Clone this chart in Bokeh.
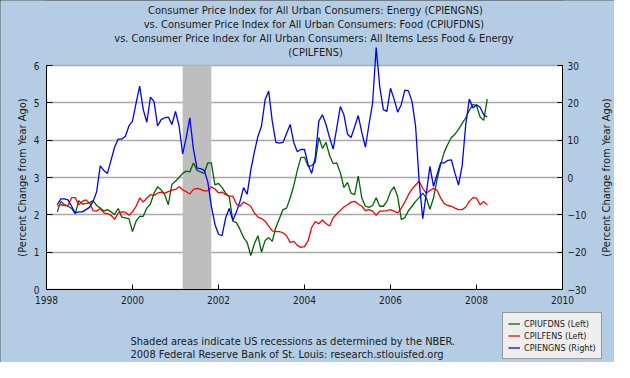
from math import pi
from bokeh.plotting import figure
from bokeh.models import (Range1d, LinearAxis, FixedTicker, BoxAnnotation, Label,
                          Legend, LegendItem)
from bokeh.embed import file_html
from bokeh.resources import INLINE

# ---------------- data (year-over-year % change, monthly, Apr 1998 - Apr 2008) -------------
start_year = 1998
start_month = 4

food_cpiufdns = [
    2.08, 2.36, 2.27, 2.23, 2.17, 2.03, 2.38, 2.29, 2.30, 2.32, 2.38, 2.25,
    2.18, 2.10, 2.14, 2.08, 2.01, 2.17, 1.94, 1.92, 1.90, 1.55, 1.83, 1.96,
    1.96, 2.18, 2.29, 2.58, 2.75, 2.67, 2.54, 2.27, 2.82, 2.90, 3.00, 3.11,
    3.17, 3.15, 3.39, 3.19, 3.15, 3.11, 3.39, 3.39, 2.80, 2.84, 2.73, 2.58,
    2.49, 1.83, 1.79, 1.61, 1.39, 1.26, 0.91, 1.22, 1.44, 1.00, 1.31, 1.39,
    1.29, 1.66, 1.90, 2.14, 2.18, 2.45, 2.78, 3.19, 3.54, 3.54, 3.30, 3.32,
    3.41, 4.07, 3.78, 3.94, 3.59, 3.37, 3.39, 3.13, 2.73, 2.87, 2.58, 2.54,
    3.04, 2.45, 2.23, 2.20, 2.25, 2.46, 2.23, 2.23, 2.36, 2.62, 2.75, 2.49,
    1.88, 1.92, 2.11, 2.23, 2.36, 2.46, 2.58, 2.45, 2.15, 2.45, 2.95, 3.35,
    3.68, 3.89, 4.07, 4.16, 4.29, 4.45, 4.60, 4.80, 4.95, 4.93, 4.62, 4.53,
    5.10,
]

core_cpilfens = [
    2.23, 2.27, 2.25, 2.25, 2.46, 2.46, 2.27, 2.36, 2.40, 2.32, 2.11, 2.10,
    2.17, 2.05, 2.03, 1.99, 1.88, 2.05, 2.08, 2.07, 1.99, 2.08, 2.23, 2.45,
    2.34, 2.45, 2.54, 2.52, 2.58, 2.61, 2.58, 2.62, 2.66, 2.68, 2.75, 2.67,
    2.62, 2.56, 2.68, 2.71, 2.68, 2.64, 2.64, 2.75, 2.69, 2.59, 2.61, 2.54,
    2.50, 2.50, 2.29, 2.23, 2.34, 2.29, 2.23, 2.05, 1.94, 1.90, 1.83, 1.70,
    1.57, 1.55, 1.55, 1.52, 1.44, 1.26, 1.29, 1.18, 1.13, 1.15, 1.30, 1.66,
    1.82, 1.76, 1.86, 1.77, 1.70, 1.92, 2.03, 2.12, 2.21, 2.27, 2.34, 2.36,
    2.29, 2.23, 2.11, 2.14, 2.10, 1.99, 2.10, 2.10, 2.11, 2.14, 2.10, 2.05,
    2.18, 2.34, 2.54, 2.69, 2.80, 2.90, 2.71, 2.58, 2.65, 2.71, 2.66, 2.45,
    2.30, 2.25, 2.23, 2.18, 2.14, 2.14, 2.21, 2.36, 2.46, 2.45, 2.27, 2.36,
    2.27,
]

energy_cpiengns = [
    -7.3, -5.7, -5.7, -6.0, -7.7, -9.5, -9.2, -9.2, -8.6, -8.0, -6.4, -3.8,
    3.1, 1.9, 1.1, 4.6, 8.1, 10.3, 10.3, 11.0, 13.8, 15.1, 19.9, 24.5,
    18.2, 14.8, 21.5, 20.4, 13.8, 15.5, 16.0, 16.2, 14.2, 17.7, 13.8, 6.3,
    10.7, 16.0, 7.6, 2.5, 2.4, 1.9, -1.1, -7.7, -12.5, -15.2, -15.6, -10.8,
    -8.3, -11.5, -9.2, -6.4, -2.7, -4.5, 1.9, 6.8, 11.0, 13.8, 20.8, 23.2,
    15.1, 9.4, 9.2, 9.4, 11.8, 14.2, 9.4, 6.9, 7.5, 7.5, 3.5, 1.1,
    5.4, 15.1, 16.8, 14.2, 10.7, 7.6, 13.3, 19.0, 16.8, 11.6, 10.7, 13.6,
    16.6, 12.0, 8.1, 14.2, 19.9, 34.8, 24.3, 18.2, 17.7, 23.9, 21.0, 17.5,
    19.5, 23.4, 23.2, 20.4, 13.8, -1.1, -11.0, -4.2, 3.0, -2.4, 0.8, 3.9,
    3.9, 4.6, 4.7, 1.1, -2.0, 3.2, 14.2, 21.0, 18.6, 19.5, 18.8, 16.8,
    16.2,
]

months = [start_year + (start_month - 1 + i) / 12.0 for i in range(len(food_cpiufdns))]

recession_start = [2001 + 2 / 12.0]
recession_end = [2001 + 10 / 12.0]

x_ticks = [1998, 2000, 2002, 2004, 2006, 2008, 2010]
left_ticks = [0, 1, 2, 3, 4, 5, 6]
right_ticks = [-30, -20, -10, 0, 10, 20, 30]

title_lines = [
    "Consumer Price Index for All Urban Consumers: Energy (CPIENGNS)",
    "vs.  Consumer Price Index for All Urban Consumers: Food (CPIUFDNS)",
    "vs.  Consumer Price Index for All Urban Consumers: All Items Less Food & Energy",
    "(CPILFENS)",
]
axis_title = "(Percent Change from Year Ago)"
footnotes = [
    "Shaded areas indicate US recessions as determined by the NBER.",
    "2008 Federal Reserve Bank of St. Louis: research.stlouisfed.org",
]
legend_labels = ["CPIUFDNS (Left)", "CPILFENS (Left)", "CPIENGNS (Right)"]

# ---------------- styling -------------
BG = "#B4CDE4"
FONT = "DejaVu Sans Condensed"
TXT = "#1a1a1a"
GREEN = "#006400"
RED = "#FF0000"
BLUE = "#0000FF"

W, H = 614, 362
X0_PX, PX_PER_YEAR = 46.0, 43.0      # where 1998 sits, px per year
Y0_PX, PX_PER_UNIT = 289.0, 224.0 / 6  # where 0 sits, px per percent (left)

x_lo = 1998 - X0_PX / PX_PER_YEAR
x_hi = 1998 + (W - X0_PX) / PX_PER_YEAR
y_hi = Y0_PX / PX_PER_UNIT
y_lo = -(H - Y0_PX) / PX_PER_UNIT

p = figure(width=W, height=H, output_backend="svg", toolbar_location=None,
           title=None,
           x_range=Range1d(x_lo, x_hi), y_range=Range1d(y_lo, y_hi),
           min_border_left=0, min_border_right=0, min_border_top=0,
           min_border_bottom=0,
           background_fill_color=BG, border_fill_color=BG,
           outline_line_color=None)
p.styles = {"outline": "1px solid #333333", "outline-offset": "-1px"}
p.extra_y_ranges = {"right": Range1d(10 * y_lo - 30, 10 * y_hi - 30)}

# white plot area
p.add_layout(BoxAnnotation(left=1998, right=2010, bottom=0, top=6,
                           fill_color="white", fill_alpha=1, line_color=None,
                           level="image"))

# axes
for ax in (p.xaxis, p.yaxis):
    ax.axis_line_color = "black"
    ax.major_tick_line_color = "black"
    ax.minor_tick_line_color = None
    ax.major_tick_out = 0
    ax.major_label_text_font = FONT
    ax.major_label_text_font_size = "10px"
    ax.major_label_text_color = TXT

p.xaxis.fixed_location = 0
p.xaxis.bounds = (1998, 2010)
p.xaxis.ticker = FixedTicker(ticks=x_ticks)
p.xaxis.major_label_overrides = {t: str(t) for t in x_ticks}
p.xaxis.major_tick_in = 5
p.xaxis.major_label_standoff = 6

p.yaxis.fixed_location = 1998
p.yaxis.ticker = FixedTicker(ticks=left_ticks)
p.yaxis.bounds = (0, 6)
p.yaxis.major_tick_in = 6
p.yaxis.major_label_standoff = 7

raxis = LinearAxis(y_range_name="right", ticker=FixedTicker(ticks=right_ticks),
                   bounds=(-30, 30), fixed_location=2010)
raxis.axis_line_color = "black"
raxis.major_tick_line_color = "black"
raxis.minor_tick_line_color = None
raxis.major_tick_out = 0
raxis.major_tick_in = 5
raxis.major_label_standoff = 5
raxis.major_label_text_font = FONT
raxis.major_label_text_font_size = "10px"
raxis.major_label_text_color = TXT
p.add_layout(raxis, "right")

p.xgrid.visible = False
p.ygrid.grid_line_color = "#A9A9A9"
p.ygrid.grid_line_width = 1.5

# hide grid lines outside the plot area
p.add_layout(BoxAnnotation(left=2010, fill_color=BG, fill_alpha=1,
                           line_color=None, level="underlay"))
p.add_layout(BoxAnnotation(right=1998, fill_color=BG, fill_alpha=1,
                           line_color=None, level="underlay"))
# recession shading
for rs, re_ in zip(recession_start, recession_end):
    p.add_layout(BoxAnnotation(left=rs, right=re_, bottom=0, top=6,
                               fill_color="#BEBEBE", fill_alpha=1,
                               line_color=None, level="underlay"))

g = p.line(months, food_cpiufdns, color=GREEN, line_width=1.3)
r = p.line(months, core_cpilfens, color=RED, line_width=1.3)
b = p.line(months, energy_cpiengns, color=BLUE, line_width=1.3, y_range_name="right")

legend = Legend(items=[LegendItem(label=legend_labels[0], renderers=[g]),
                       LegendItem(label=legend_labels[1], renderers=[r]),
                       LegendItem(label=legend_labels[2], renderers=[b])],
                location=(502, 3))
legend.border_line_color = "#444444"
legend.border_line_width = 1
legend.background_fill_color = "#EEEEEE"
legend.background_fill_alpha = 1
legend.label_text_font = FONT
legend.label_text_font_size = "9px"
legend.label_text_color = TXT
legend.glyph_width = 12
legend.glyph_height = 11
legend.label_height = 11
legend.label_standoff = 4
legend.padding = 5
legend.spacing = 1
legend.margin = 0
p.add_layout(legend, "center")


def vy(px):
    """vertical pixel position (from top) -> left-axis data value"""
    return (Y0_PX - px) / PX_PER_UNIT


def vx(px):
    """horizontal pixel position -> year"""
    return 1998 + (px - X0_PX) / PX_PER_YEAR


# texts (inside the frame)
for txt, ty in zip(title_lines, [9.5, 24, 38, 52]):
    p.add_layout(Label(x=vx(315), y=vy(ty), text=txt, text_font=FONT,
                       text_font_size="11px", text_color=TXT,
                       text_align="center", text_baseline="middle"))

for lx in (22, 606):
    p.add_layout(Label(x=vx(lx), y=3.0, text=axis_title, angle=pi / 2,
                       text_font=FONT, text_font_size="11px", text_color=TXT,
                       text_align="center", text_baseline="middle"))

for txt, fy in zip(footnotes, [341, 354]):
    p.add_layout(Label(x=vx(130), y=vy(fy), text=txt, text_font=FONT,
                       text_font_size="11px", text_color=TXT,
                       text_align="left", text_baseline="middle"))

open("out.html", "w").write(file_html(p, INLINE))
